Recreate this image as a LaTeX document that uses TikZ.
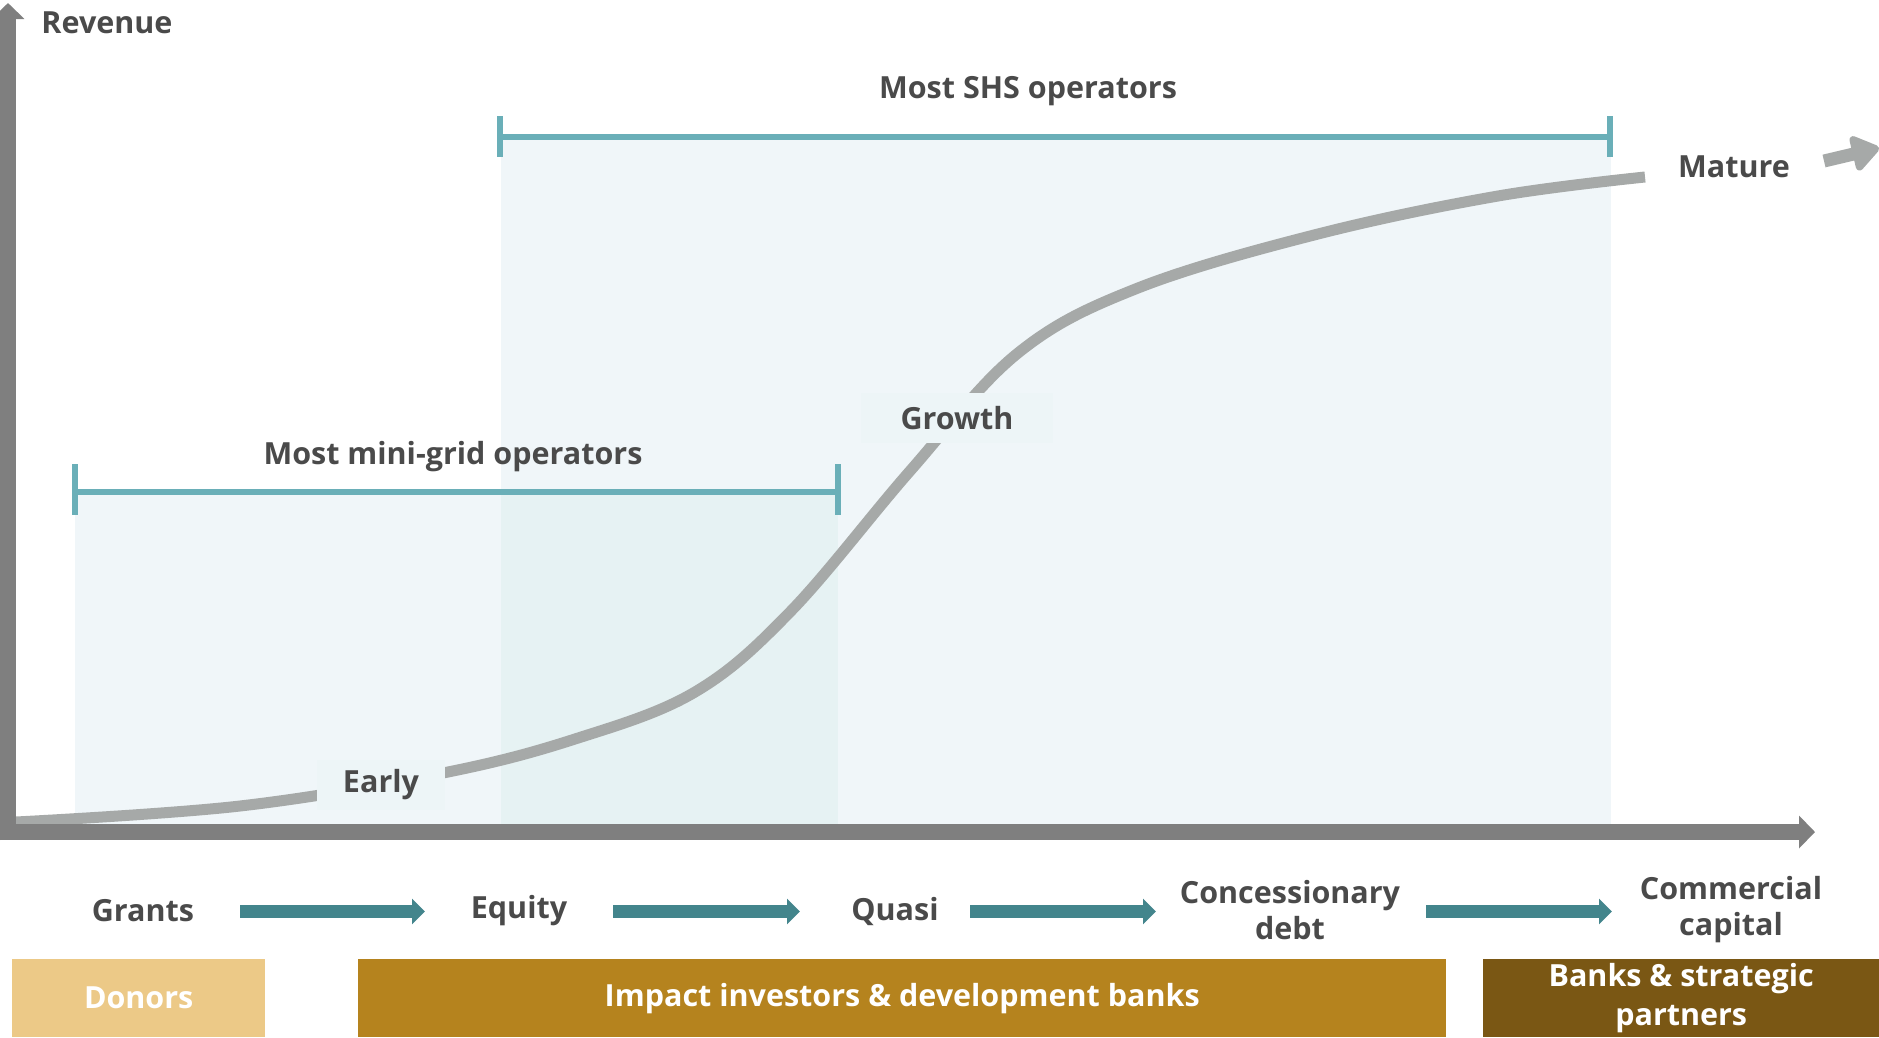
\documentclass[tikz,border=0pt]{standalone}
\usepackage{fontspec}
\setmainfont{Open Sans}
\usetikzlibrary{arrows.meta}
\definecolor{txt}{HTML}{4A4A4A}
\definecolor{regfill}{HTML}{F0F6F9}
\definecolor{ovfill}{HTML}{E6F2F3}
\definecolor{boxfill}{HTML}{EDF5F7}
\definecolor{curvec}{HTML}{A6A9A8}
\definecolor{axisc}{HTML}{7F7F7F}
\definecolor{brkc}{HTML}{6AAFB8}
\definecolor{arrc}{HTML}{43858C}
\definecolor{donorc}{HTML}{ECC987}
\definecolor{impactc}{HTML}{B5831E}
\definecolor{bankc}{HTML}{7A5714}
\begin{document}
\begin{tikzpicture}[x=1pt,y=-1pt,
  lbl/.style={font=\fontsize{30.5}{36}\selectfont\bfseries, text=txt, align=center, inner sep=0pt},
  wlbl/.style={font=\fontsize{30.5}{39}\selectfont\bfseries, text=white, align=center, inner sep=0pt, anchor=north west},
  lblbox/.style={lbl, fill=boxfill},
  curveline/.style={draw=curvec, line width=11pt},
  brk/.style={draw=brkc, line width=6pt},
  axisline/.style={draw=axisc, line width=16pt, -{Triangle[length=16pt,width=32pt]}},
  fundarrow/.style={draw=arrc, line width=13pt, -{Triangle[length=13pt,width=25pt]}}]
\useasboundingbox (0,0) rectangle (1879,1037);
% regions
\fill[regfill] (75,495) rectangle (838,824);
\fill[regfill] (501,140) rectangle (1611,824);
\fill[ovfill] (501,495) rectangle (838,824);
% curve
\draw[curveline] plot[smooth, tension=0.6] coordinates {(16,822) (240,806) (443,773) (575,739) (695,692) (791,611) (910,471) (1018,353) (1138,288) (1318,234) (1498,196) (1645,177)};
% stage labels
\node[lblbox, minimum width=128pt, minimum height=50pt] (early) at (381,785) {Early};
\node[lblbox, minimum width=192pt, minimum height=50pt] (growth) at (957,418) {Growth};
\node[lbl] (mature) at (1734,167) {Mature};
\coordinate (ma1) at (1824,161);
\coordinate (ma2) at (1879,148);
\draw[draw=curvec, line width=13pt, -{Triangle[length=30pt,width=40pt,round]}] (ma1) -- (ma2);
% brackets
\coordinate (mgL) at (75,492);
\coordinate (mgR) at (838,492);
\draw[brk] (mgL) -- (mgR);
\draw[brk] (75,464) -- (75,515);
\draw[brk] (838,464) -- (838,515);
\node[lbl] (mglbl) at (453,457) {Most mini-grid operators};
\coordinate (shL) at (500,137);
\coordinate (shR) at (1610,137);
\draw[brk] (shL) -- (shR);
\draw[brk] (500,116) -- (500,157);
\draw[brk] (1610,116) -- (1610,157);
\node[lbl] (shlbl) at (1028,91) {Most SHS operators};
% axes
\coordinate (o) at (8,840);
\coordinate (ytip) at (8,3);
\coordinate (x0) at (0,832);
\coordinate (xtip) at (1815,832);
\draw[axisline] (o) -- (ytip);
\draw[axisline] (x0) -- (xtip);
\node[lbl] (rev) at (107,23) {Revenue};
% funding stages
\node[lbl] (grants) at (143,911) {Grants};
\node[lbl] (equity) at (519,911) {Equity};
\node[lbl] (quasi) at (895,911) {Quasi};
\node[lbl] (conc) at (1290,910) {Concessionary\\debt};
\node[lbl] (comm) at (1731,910) {Commercial\\capital};
\coordinate (a1s) at (240,911.5); \coordinate (a1e) at (425,911.5);
\coordinate (a2s) at (613,911.5); \coordinate (a2e) at (800,911.5);
\coordinate (a3s) at (970,911.5); \coordinate (a3e) at (1156,911.5);
\coordinate (a4s) at (1426,911.5); \coordinate (a4e) at (1612,911.5);
\draw[fundarrow] (a1s) -- (a1e);
\draw[fundarrow] (a2s) -- (a2e);
\draw[fundarrow] (a3s) -- (a3e);
\draw[fundarrow] (a4s) -- (a4e);
% investor boxes
\node[wlbl, fill=donorc, minimum width=253pt, minimum height=78pt] (donors) at (12,959) {Donors};
\node[wlbl, fill=impactc, minimum width=1088pt, minimum height=78pt] (impact) at (358,959) {Impact investors \& development banks};
\node[wlbl, fill=bankc, minimum width=396pt, minimum height=78pt] (banks) at (1483,959) {Banks \& strategic\\partners};
\end{tikzpicture}
\end{document}
